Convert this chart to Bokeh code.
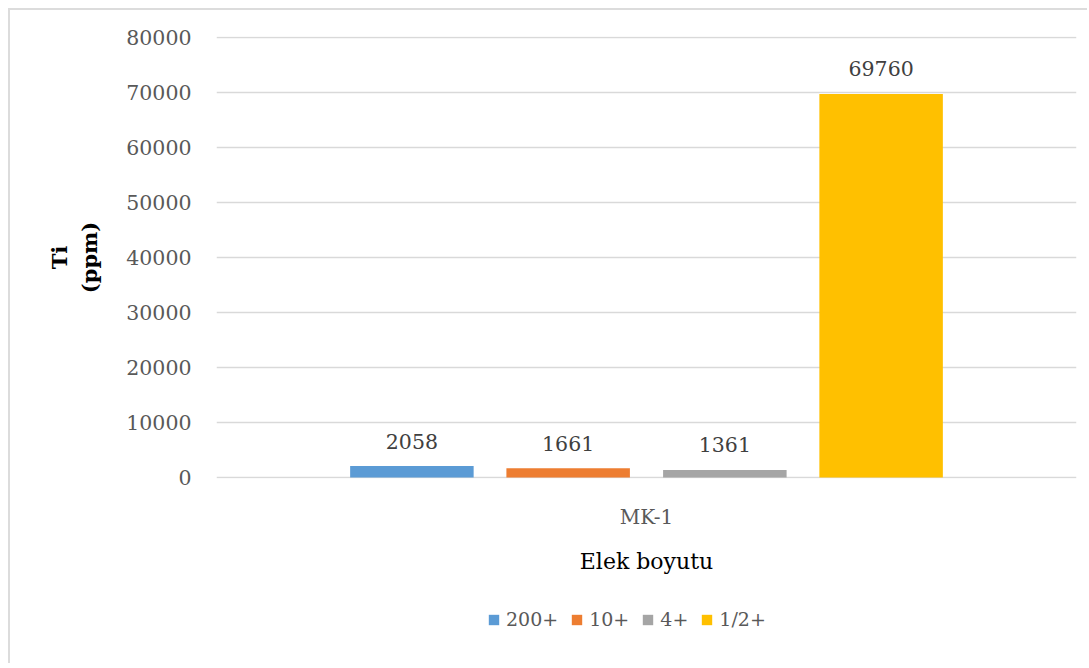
from bokeh.plotting import figure
from bokeh.layouts import column
from bokeh.models import (ColumnDataSource, FactorRange, Range1d, Legend, LegendItem,
                          SingleIntervalTicker, NumeralTickFormatter)
from bokeh.transform import dodge
from bokeh.embed import file_html
from bokeh.resources import INLINE

# Ti content per sieve fraction for sample MK-1
sample = ["MK-1"]
series = ["200+", "10+", "4+", "1/2+"]
values = [2058, 1661, 1361, 69760]
colors = ["#5B9BD5", "#ED7D31", "#A5A5A5", "#FFC000"]
offsets = [-0.2728, -0.0911, 0.0911, 0.2728]

FONT = "DejaVu Serif"
EDGE = "2px solid #DCDCDC"

# main chart
p = figure(width=1079, height=575, margin=(8, 0, 0, 8),
           x_range=FactorRange(*sample), y_range=Range1d(-200, 80200),
           output_backend="svg", toolbar_location=None,
           min_border_left=206, min_border_right=13, min_border_top=26, min_border_bottom=107,
           styles={"border-left": EDGE, "border-top": EDGE})
p.outline_line_color = None

# legend strip underneath the chart (same side borders so the frames line up)
lg = figure(width=1079, height=80, margin=(0, 0, 0, 8),
            x_range=FactorRange(*sample), y_range=Range1d(0, 1),
            output_backend="svg", toolbar_location=None,
            x_axis_location=None, y_axis_location=None,
            min_border=0, min_border_left=206, min_border_right=13,
            styles={"border-left": EDGE})
lg.outline_line_color = None
lg.grid.visible = False

items = []
for name, val, col, off in zip(series, values, colors, offsets):
    src = ColumnDataSource(dict(x=sample, top=[val], label=[str(val)]))
    p.vbar(x=dodge("x", off, range=p.x_range), top="top", width=0.1436, source=src,
           fill_color=col, line_color=None)
    p.text(x=dodge("x", off, range=p.x_range), y="top", text="label", source=src,
           text_align="center", text_baseline="alphabetic", y_offset=-25,
           text_font_size="20.5px", text_color="#404040", text_font={"value": FONT})
    # hidden twin of each bar series, used only for its legend swatch
    r = lg.vbar(x=dodge("x", off, range=lg.x_range), top="top", width=0.1436, source=src,
                fill_color=col, line_color=None, visible=False)
    items.append(LegendItem(label=name, renderers=[r]))

# y axis
p.yaxis.ticker = SingleIntervalTicker(interval=10000)
p.yaxis.formatter = NumeralTickFormatter(format="0")
p.yaxis.axis_line_color = None
p.yaxis.major_tick_line_color = None
p.yaxis.minor_tick_line_color = None
p.yaxis.major_label_standoff = 19
p.yaxis.major_label_text_font = FONT
p.yaxis.major_label_text_font_size = "20.5px"
p.yaxis.major_label_text_color = "#595959"
p.yaxis.axis_label = "Ti\n(ppm)"
p.yaxis.axis_label_standoff = 21
p.yaxis.axis_label_text_font = FONT
p.yaxis.axis_label_text_font_size = "21px"
p.yaxis.axis_label_text_font_style = "bold"
p.yaxis.axis_label_text_color = "#000000"
p.yaxis.axis_label_text_align = "center"

# x axis
p.xaxis.axis_line_color = None
p.xaxis.major_tick_line_color = None
p.xaxis.minor_tick_line_color = None
p.xaxis.major_label_standoff = 20
p.xaxis.major_label_text_font = FONT
p.xaxis.major_label_text_font_size = "20px"
p.xaxis.major_label_text_color = "#595959"
p.xaxis.axis_label = "Elek boyutu"
p.xaxis.axis_label_standoff = 17
p.xaxis.axis_label_text_font = FONT
p.xaxis.axis_label_text_font_size = "22px"
p.xaxis.axis_label_text_font_style = "normal"
p.xaxis.axis_label_text_color = "#000000"

p.xgrid.grid_line_color = None
p.ygrid.grid_line_color = "#D9D9D9"
p.ygrid.grid_line_width = 1.5

legend = Legend(items=items, orientation="horizontal", location=(271, 33),
                glyph_width=13, glyph_height=13, label_standoff=6, spacing=12,
                label_text_font=FONT, label_text_font_size="19px",
                label_text_color="#595959", border_line_color=None,
                background_fill_alpha=0, inactive_fill_alpha=0, margin=0, padding=4)
lg.add_layout(legend, "center")

open("out.html", "w").write(file_html(column(p, lg, spacing=0), INLINE))
